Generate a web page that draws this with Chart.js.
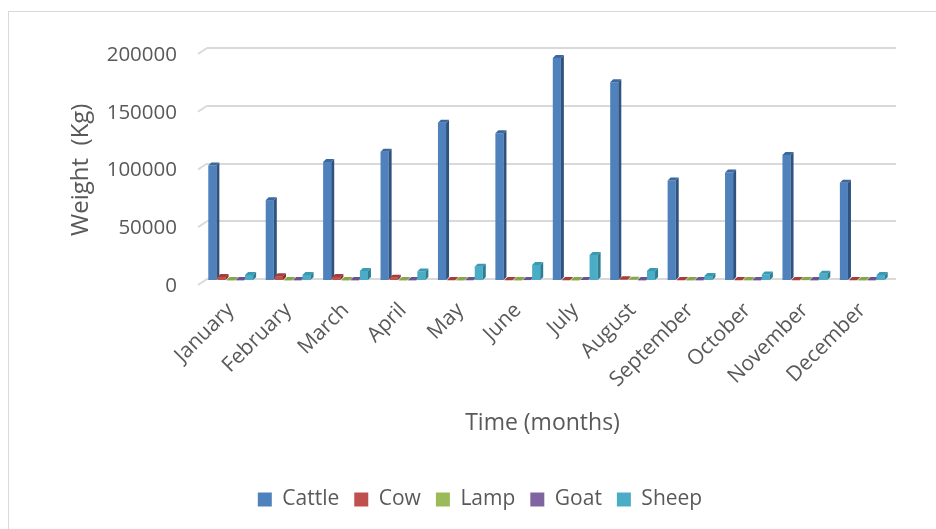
<!DOCTYPE html>
<html>
<head>
<meta charset="utf-8">
<title>Weight by month</title>
<script src="https://cdn.jsdelivr.net/npm/chart.js@4/dist/chart.umd.min.js"></script>
<style>
  html, body { margin: 0; padding: 0; background: #ffffff; overflow: hidden; }
  #wrap { position: relative; width: 936px; height: 529px; overflow: hidden; }
  #frame { position: absolute; left: 8px; top: 11px; width: 2000px; height: 2000px;
           border-left: 1px solid #d9d9d9; border-top: 1px solid #d9d9d9; pointer-events: none; }
  canvas { position: absolute; left: 0; top: 0; }
</style>
</head>
<body>
<div id="wrap">
  <canvas id="chart" width="960" height="529"></canvas>
  <div id="frame"></div>
</div>
<script>
// Monthly weights (kg) per animal type
const months = ['January', 'February', 'March', 'April', 'May', 'June',
                'July', 'August', 'September', 'October', 'November', 'December'];
const cattle = [100000, 70000, 103000, 112000, 137000, 128000, 193000, 172000, 87000, 94000, 109000, 85000];
const cow    = [3500, 4200, 3500, 2800, 600, 600, 600, 1500, 600, 600, 600, 600];
const lamp   = [400, 400, 400, 400, 400, 400, 400, 1000, 400, 500, 700, 400];
const goat   = [500, 500, 500, 500, 600, 800, 900, 500, 500, 500, 500, 500];
const sheep  = [5200, 5200, 8700, 8300, 12400, 13900, 22500, 8700, 4300, 5700, 6300, 5200];
const seriesNames = ['Cattle', 'Cow', 'Lamp', 'Goat', 'Sheep'];
const yTickValues = [0, 50000, 100000, 150000, 200000];

// Face colours for the extruded columns: front, side, top
const palette = [
  { front: '#4F81BD', side: '#2F5380', top: '#3B689F' },
  { front: '#C0504D', side: '#862F2D', top: '#A33E3B' },
  { front: '#9BBB59', side: '#6C8838', top: '#87A64A' },
  { front: '#8064A2', side: '#573F75', top: '#6B5290' },
  { front: '#4BACC6', side: '#2C7E94', top: '#3A99B3' }
];

const FONT = '"Open Sans", "DejaVu Sans", sans-serif';
const TEXT = '#595959';
const GRID = '#d9d9d9';
const DEPTH = 3;          // extrusion depth of each column
const SHIFT_X = -5;       // columns sit slightly in front of the back wall
const SHIFT_Y = 2;

const values = [cattle, cow, lamp, goat, sheep];

// Draws the columns with a shaded side and top, and the floor edge ticks on the left.
const columns3d = {
  id: 'columns3d',
  beforeDatasetsDraw(chart) {
    const ctx = chart.ctx;
    const area = chart.chartArea;
    const yScale = chart.scales.y;

    // short diagonal at the left end of each gridline (floor / wall edge)
    ctx.save();
    ctx.strokeStyle = GRID;
    ctx.lineWidth = 2;
    yTickValues.forEach(v => {
      const py = yScale.getPixelForValue(v);
      ctx.beginPath();
      ctx.moveTo(area.left - 9, py + 6);
      ctx.lineTo(area.left, py);
      ctx.stroke();
    });
    ctx.restore();

    // columns, first series first so later ones overlap its side face
    chart.data.datasets.forEach((ds, di) => {
      const meta = chart.getDatasetMeta(di);
      if (meta.hidden) return;
      const col = palette[di];
      meta.data.forEach(el => {
        const p = el.getProps(['x', 'y', 'base', 'width'], true);
        const left = p.x - p.width / 2;
        const right = p.x + p.width / 2;
        const top = Math.min(p.y, p.base);
        const bottom = Math.max(p.y, p.base);
        ctx.save();
        ctx.translate(SHIFT_X, SHIFT_Y);
        el.draw(ctx, area);
        // side face
        ctx.fillStyle = col.side;
        ctx.beginPath();
        ctx.moveTo(right, top);
        ctx.lineTo(right + DEPTH, top - DEPTH);
        ctx.lineTo(right + DEPTH, bottom - DEPTH);
        ctx.lineTo(right, bottom);
        ctx.closePath();
        ctx.fill();
        // top face
        ctx.fillStyle = col.top;
        ctx.beginPath();
        ctx.moveTo(left, top);
        ctx.lineTo(left + DEPTH, top - DEPTH);
        ctx.lineTo(right + DEPTH, top - DEPTH);
        ctx.lineTo(right, top);
        ctx.closePath();
        ctx.fill();
        ctx.restore();
      });
    });
    return false;
  }
};

const chart = new Chart(document.getElementById('chart'), {
  type: 'bar',
  data: {
    labels: months,
    datasets: seriesNames.map((name, i) => ({
      label: name,
      data: values[i],
      backgroundColor: palette[i].front,
      borderWidth: 0,
      categoryPercentage: 0.8,
      barPercentage: 0.88
    }))
  },
  options: {
    responsive: false,
    animation: false,
    devicePixelRatio: 1,
    layout: { padding: { top: 48, right: 0, bottom: 9, left: 0 } },
    plugins: {
      legend: {
        position: 'bottom',
        labels: {
          boxWidth: 14,
          boxHeight: 14,
          padding: 15,
          color: TEXT,
          font: { family: FONT, size: 21 }
        }
      },
      tooltip: { enabled: false }
    },
    scales: {
      x: {
        grid: { display: false },
        border: { display: false },
        ticks: {
          color: TEXT,
          font: { family: FONT, size: 21 },
          maxRotation: 45,
          minRotation: 45,
          padding: 11,
          labelOffset: -5,
          autoSkip: false
        },
        title: {
          display: true,
          text: 'Time (months)   ',
          color: TEXT,
          font: { family: FONT, size: 23 },
          padding: { top: 0, bottom: 37 }
        },
        afterFit(scale) { scale.height = 195; }
      },
      y: {
        min: 0,
        max: 200000,
        afterBuildTicks(scale) { scale.ticks = yTickValues.map(v => ({ value: v })); },
        grid: { color: GRID, lineWidth: 2, drawTicks: false, tickLength: 0 },
        border: { display: false },
        ticks: {
          color: TEXT,
          font: { family: FONT, size: 20.5 },
          padding: 30,
          labelOffset: 7,
          callback: v => String(v)
        },
        title: {
          display: true,
          text: 'Weight  (Kg)  ',
          color: TEXT,
          font: { family: FONT, size: 24 },
          padding: { top: 67, bottom: 0 }
        },
        afterFit(scale) { scale.width = 207; }
      },
      // empty band on the right keeping the plot clear of the frame edge
      yRight: {
        position: 'right',
        display: true,
        min: 0,
        max: 1,
        grid: { display: false },
        border: { display: false },
        ticks: { display: false },
        afterFit(scale) { scale.width = 64; }
      }
    }
  },
  plugins: [columns3d]
});
</script>
</body>
</html>
